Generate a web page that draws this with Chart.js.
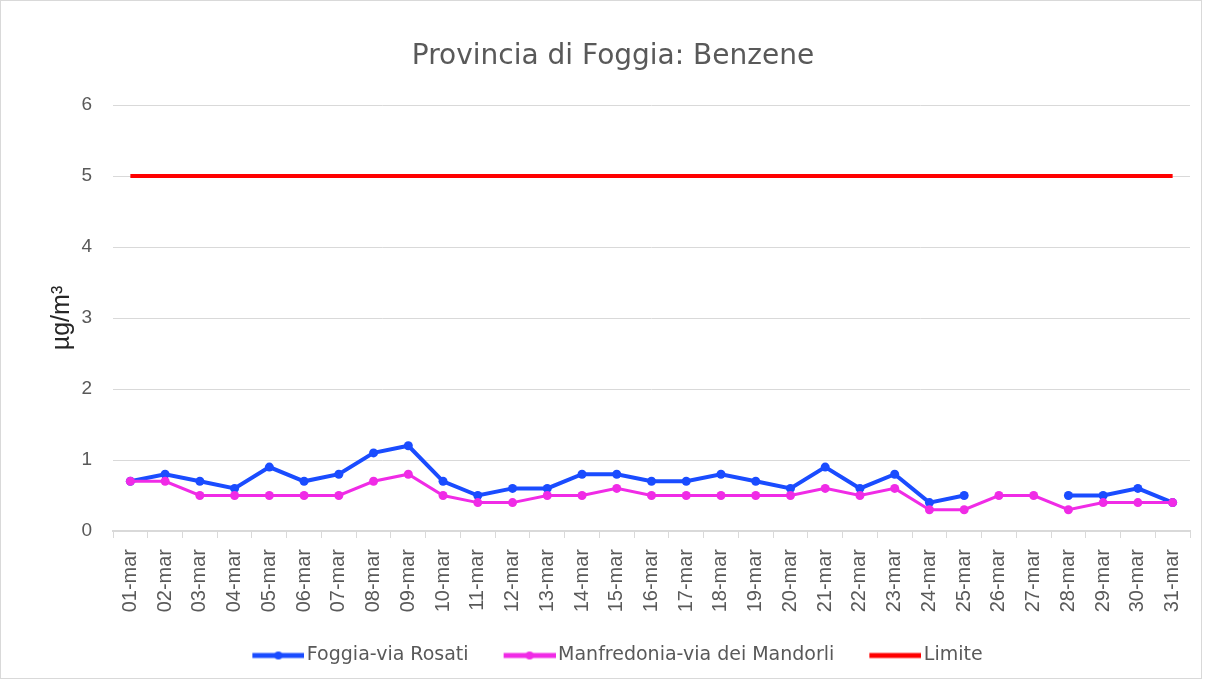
<!DOCTYPE html>
<html>
<head>
<meta charset="utf-8">
<script src="https://cdn.jsdelivr.net/npm/chart.js@4"></script>
<style>
html,body{margin:0;padding:0;background:#fff;}
#wrap{width:1205px;height:681px;position:relative;}
</style>
</head>
<body>
<div id="wrap"><canvas id="c" width="1205" height="681"></canvas></div>
<script>
const categories = ["01-mar","02-mar","03-mar","04-mar","05-mar","06-mar","07-mar","08-mar","09-mar","10-mar","11-mar","12-mar","13-mar","14-mar","15-mar","16-mar","17-mar","18-mar","19-mar","20-mar","21-mar","22-mar","23-mar","24-mar","25-mar","26-mar","27-mar","28-mar","29-mar","30-mar","31-mar"];
const foggiaViaRosati = [0.7,0.8,0.7,0.6,0.9,0.7,0.8,1.1,1.2,0.7,0.5,0.6,0.6,0.8,0.8,0.7,0.7,0.8,0.7,0.6,0.9,0.6,0.8,0.4,0.5,null,null,0.5,0.5,0.6,0.4];
const manfredonia = [0.7,0.7,0.5,0.5,0.5,0.5,0.5,0.7,0.8,0.5,0.4,0.4,0.5,0.5,0.6,0.5,0.5,0.5,0.5,0.5,0.6,0.5,0.6,0.3,0.3,0.5,0.5,0.3,0.4,0.4,0.4];
const limite = [5,5,5,5,5,5,5,5,5,5,5,5,5,5,5,5,5,5,5,5,5,5,5,5,5,5,5,5,5,5,5];
const yTicks = [0,1,2,3,4,5,6];

const FONT = "'Liberation Sans', Arial, sans-serif";
const DFONT = "'DejaVu Sans', sans-serif";
const TXT = '#595959';

const PSW = 66, ICON_LINE = 52, OVER = 7;
function legendIcon(color, withDot){
  const cv = document.createElement('canvas');
  const w = PSW + 2*OVER;
  cv.width = w; cv.height = 12;
  const g = cv.getContext('2d');
  g.strokeStyle = color; g.lineWidth = 5;
  g.beginPath(); g.moveTo(w-ICON_LINE,6); g.lineTo(w,6); g.stroke();
  if (withDot){ g.fillStyle=color; g.beginPath(); g.arc(w-ICON_LINE/2,6,4,0,Math.PI*2); g.fill(); }
  return cv;
}
const icons = [legendIcon('#1a4cff', true), legendIcon('#f02be6', true), legendIcon('#ff0000', false)];

const borderPlugin = {
  id:'outerBorder',
  afterLayout(chart){
    const lg = chart.legend;
    if (lg){ lg.left += 12; lg.right += 12; }
    const tb = chart.titleBlock;
    if (tb){ tb.left += 18; tb.right += 18; }
  },
  afterDraw(chart){
    const ctx = chart.ctx;
    ctx.save();
    ctx.strokeStyle = '#d9d9d9'; ctx.lineWidth = 1;
    ctx.strokeRect(0.5,0.5,1201,678);
    ctx.restore();
  }
};

new Chart(document.getElementById('c'), {
  type:'line',
  data:{
    labels: categories,
    datasets:[
      {label:'Foggia-via Rosati', data: foggiaViaRosati, borderColor:'#1a4cff', backgroundColor:'#1a4cff', borderWidth:4, pointRadius:4.5, pointHoverRadius:4.5, pointBorderWidth:0, pointStyle:'circle', spanGaps:false, tension:0, order:3},
      {label:'Manfredonia-via dei Mandorli', data: manfredonia, borderColor:'#f02be6', backgroundColor:'#f02be6', borderWidth:3, pointRadius:4.5, pointHoverRadius:4.5, pointBorderWidth:0, pointStyle:'circle', tension:0, order:2},
      {label:'Limite', data: limite, borderColor:'#ff0000', backgroundColor:'#ff0000', borderWidth:4, pointRadius:0, pointHoverRadius:0, tension:0, order:1}
    ]
  },
  options:{
    responsive:false,
    animation:false,
    devicePixelRatio:1,
    layout:{padding:{left:0,right:15,top:0,bottom:6}},
    plugins:{
      title:{display:true, text:'Provincia di Foggia: Benzene', color:TXT, font:{family:DFONT, size:28, weight:'normal'}, padding:{top:40,bottom:31.4}},
      legend:{position:'bottom', labels:{
        generateLabels(chart){
          return chart.data.datasets.map((ds,i)=>({text:ds.label, pointStyle: icons[i], fillStyle: ds.borderColor, strokeStyle: ds.borderColor, lineWidth:0, fontColor:TXT, datasetIndex:i, hidden:false}));
        },
        usePointStyle:true, pointStyleWidth: PSW, color:TXT, font:{family:DFONT, size:19}, padding:14
      }},
      tooltip:{enabled:false}
    },
    scales:{
      x:{
        offset:true,
        grid:{display:true, drawOnChartArea:false, offset:true, tickLength:7, color:'#d9d9d9', lineWidth:1},
        border:{display:true, color:'#d9d9d9', width:2},
        ticks:{color:TXT, font:{family:FONT, size:20, lineHeight:1}, maxRotation:90, minRotation:90, autoSkip:false, padding:11},
        afterFit(s){ s.height = 101; }
      },
      y:{
        min:0, max:6,
        afterBuildTicks(s){ s.ticks = yTicks.map(v=>({value:v})); },
        grid:{color:'#d9d9d9', lineWidth:1, drawTicks:false},
        border:{display:false},
        ticks:{color:TXT, font:{family:FONT, size:19}, padding:21},
        title:{display:true, text:'µg/m³', color:'#262626', font:{family:FONT, size:25, weight:'normal'}, padding:{top:47,bottom:0}},
        afterFit(s){ s.width = 113; }
      }
    }
  },
  plugins:[borderPlugin]
});
</script>
</body>
</html>
